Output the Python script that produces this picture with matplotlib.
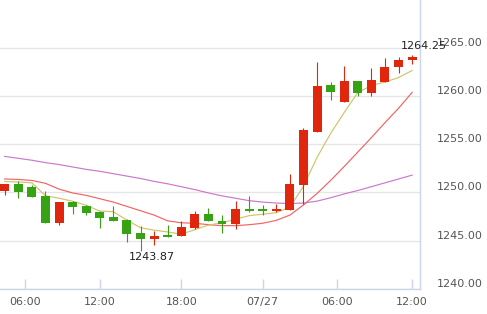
import numpy as np
from matplotlib import pyplot as plt

# hourly candles, index 0..30
opens = [1250.15, 1250.85, 1250.6, 1249.6, 1246.85, 1248.98, 1248.55, 1247.98,
         1247.4, 1247.1, 1245.75, 1245.2, 1245.5, 1245.5, 1246.3, 1247.75,
         1247.0, 1246.75, 1248.25, 1248.15, 1248.05, 1248.2, 1250.8, 1256.3,
         1261.15, 1259.4, 1261.55, 1260.35, 1261.45, 1263.0, 1263.75]
closes = [1250.85, 1250.05, 1249.55, 1246.85, 1248.98, 1248.5, 1247.9, 1247.35,
          1247.05, 1245.65, 1245.2, 1245.45, 1245.4, 1246.4, 1247.75, 1247.05,
          1246.75, 1248.25, 1248.05, 1248.05, 1248.25, 1250.85, 1256.45, 1261.1,
          1260.45, 1261.55, 1260.35, 1261.7, 1263.05, 1263.8, 1264.05]
highs = [1250.9, 1251.2, 1250.8, 1250.1, 1249.0, 1249.1, 1248.7, 1248.1,
         1248.6, 1247.2, 1246.55, 1245.95, 1246.6, 1247.05, 1248.05, 1248.4,
         1247.7, 1249.1, 1249.6, 1248.65, 1248.8, 1251.9, 1256.7, 1263.6,
         1261.5, 1263.1, 1261.55, 1262.9, 1264.0, 1264.1, 1264.25]
lows = [1249.7, 1249.45, 1249.5, 1246.8, 1246.6, 1247.75, 1247.7, 1246.3,
        1247.0, 1244.9, 1243.87, 1244.5, 1245.35, 1245.45, 1246.25, 1247.0,
        1245.8, 1246.2, 1248.0, 1247.7, 1247.95, 1248.15, 1248.8, 1256.3,
        1259.6, 1259.4, 1260.0, 1260.0, 1261.45, 1262.4, 1263.4]

ma5 = [1251.14, 1251.09, 1251.0, 1249.66, 1249.4, 1249.09, 1248.67, 1248.07,
       1248.0, 1247.12, 1246.34, 1246.08, 1245.9, 1245.67, 1246.13, 1246.6,
       1246.86, 1247.22, 1247.59, 1247.74, 1247.9, 1248.47, 1250.64, 1253.65,
       1256.13, 1258.31, 1260.38, 1261.11, 1261.47, 1261.94, 1262.67]
ma10 = [1251.4, 1251.35, 1251.25, 1250.95, 1250.35, 1249.95, 1249.7, 1249.35,
        1249.0, 1248.55, 1248.1, 1247.65, 1247.05, 1246.85, 1246.8, 1246.65,
        1246.55, 1246.55, 1246.65, 1246.8, 1247.1, 1247.65, 1248.7, 1249.9,
        1251.25, 1252.7, 1254.2, 1255.7, 1257.25, 1258.75, 1260.4]
ma30 = [1253.75, 1253.55, 1253.35, 1253.1, 1252.9, 1252.65, 1252.4, 1252.2,
        1251.95, 1251.7, 1251.45, 1251.15, 1250.9, 1250.6, 1250.3, 1249.95,
        1249.65, 1249.4, 1249.15, 1249.0, 1248.9, 1248.85, 1248.9, 1249.1,
        1249.45, 1249.85, 1250.2, 1250.6, 1251.0, 1251.4, 1251.8]

tick_pos = [1.5, 7, 13, 19, 24.5, 30]
tick_labels = ['06:00', '12:00', '18:00', '07/27', '06:00', '12:00']
y_ticks = [1240, 1245, 1250, 1255, 1260, 1265]

up_col = '#e0260c'
down_col = '#36a314'
axis_col = '#ccd6eb'


if __name__ == "__main__":
    fig = plt.figure(figsize=(4.87, 3.14), dpi=100)
    ax = fig.add_axes([0, 0.0806, 420 / 487, 0.9194])

    x = np.arange(len(opens))
    o = np.array(opens)
    c = np.array(closes)
    cols = [up_col if cc >= oo else down_col for oo, cc in zip(o, c)]
    bottoms = np.minimum(o, c)
    heights = np.maximum(np.abs(c - o), 0.18)

    ax.vlines(x, lows, highs, colors=cols, linewidth=0.8, zorder=3)
    ax.bar(x, heights, bottom=bottoms, width=0.66, color=cols, zorder=4)

    ax.plot(x, ma30, color='#cc77cc', lw=0.85, zorder=2)
    ax.plot(x, ma10, color='#f26464', lw=0.85, zorder=2)
    ax.plot(x, ma5, color='#cfc46a', lw=0.85, zorder=2)

    # min / max labels
    imin = int(np.argmin(lows))
    imax = int(np.argmax(highs))
    ax.annotate(f'{lows[imin]:.2f}', (imin, lows[imin]), xytext=(-8.3, -0.5),
                textcoords='offset points', ha='left', va='top',
                fontsize=8, color='#222222', zorder=6)
    ax.annotate(f'{highs[imax]:.2f}', (imax, highs[imax]), xytext=(-8.3, 2.8),
                textcoords='offset points', ha='left', va='bottom',
                fontsize=8, color='#222222', zorder=6, annotation_clip=False)

    ax.set_xlim(-0.346, 30.58)
    ax.set_ylim(1240, 1270)
    ax.set_xticks(tick_pos)
    ax.set_xticklabels(tick_labels)
    ax.set_yticks(y_ticks)
    ax.set_yticklabels([f'{v:.2f}' for v in y_ticks])
    ax.yaxis.tick_right()
    ax.grid(axis='y', color='#e6e6e6', linewidth=1.0)
    ax.set_axisbelow(True)

    for s in ['left', 'top']:
        ax.spines[s].set_visible(False)
    for s in ['right', 'bottom']:
        ax.spines[s].set_color(axis_col)
        ax.spines[s].set_linewidth(1.0)

    ax.tick_params(axis='x', direction='in', length=7, width=1.0,
                   color=axis_col, labelsize=8, labelcolor='#555555', pad=6)
    ax.tick_params(axis='y', length=0, labelsize=8, labelcolor='#555555', pad=12)
    for lab in ax.get_yticklabels():
        lab.set_va('bottom')

    fig.savefig('out.png', dpi=100)
